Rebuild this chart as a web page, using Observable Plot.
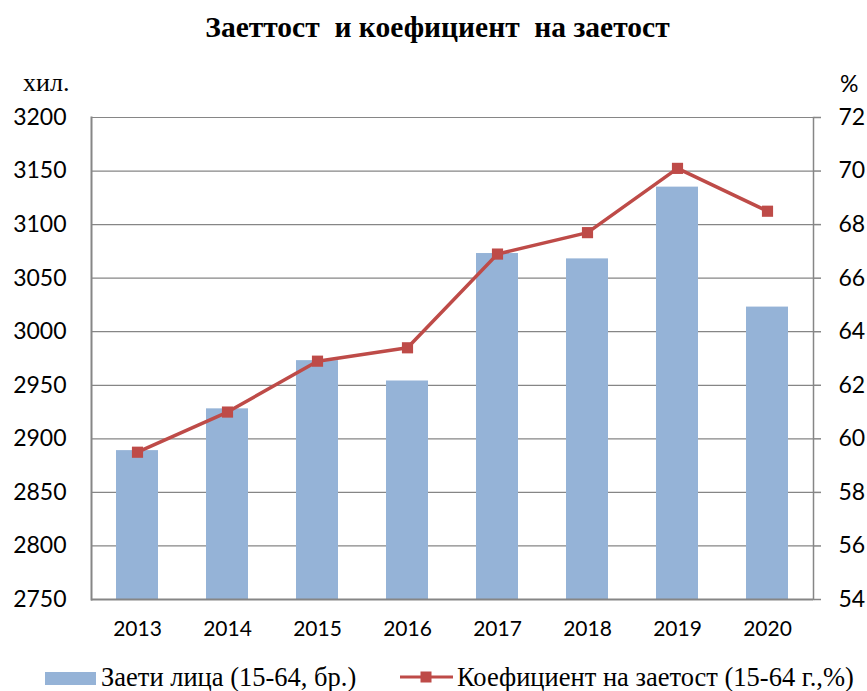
<!DOCTYPE html>
<html>
<head>
<meta charset="utf-8">
<script src="https://cdn.jsdelivr.net/npm/d3@7"></script>
<script src="https://cdn.jsdelivr.net/npm/@observablehq/plot@0.6"></script>
<style>
  html, body { margin: 0; padding: 0; background: #fff; }
  #wrap { position: relative; width: 867px; height: 691px; overflow: hidden; }
  #wrap > svg { position: absolute; left: 0; top: 0; }
  .txt { position: absolute; white-space: pre; color: #000; line-height: 1; }
  .title { font-family: "Liberation Serif", "Times New Roman", serif; font-weight: bold; font-size: 29.5px; left: 4px; width: 867px; text-align: center; top: 13px; }
  .unit { font-family: "Liberation Serif", "Times New Roman", serif; font-size: 26px; }
  .unitpct { font-family: Lato, sans-serif; font-size: 23px; }
  .legend { font-family: "Liberation Serif", "Times New Roman", serif; font-size: 26.5px; top: 664px; }
</style>
</head>
<body>
<div id="wrap">
  <div class="txt title">Заеттост  и коефициент  на заетост</div>
  <div class="txt unit" style="left:23px; top:70px;">хил.</div>
  <div class="txt unitpct" style="left:840px; top:72px;">%</div>
  <div class="txt legend" style="left:45px;"><span style="display:inline-block;width:51px;height:13px;background:#95B3D7;vertical-align:1px;margin-right:5px;"></span>Заети лица (15-64, бр.)</div>
  <div class="txt legend" style="left:400px;"><svg width="53" height="14" style="vertical-align:2px;margin-right:4px;"><line x1="0" y1="7" x2="53" y2="7" stroke="#BE4B48" stroke-width="3"/><rect x="20.5" y="1.5" width="11" height="11" fill="#BE4B48"/></svg>Коефициент на заетост (15-64 г.,%)</div>
</div>
<script>
const years = ["2013","2014","2015","2016","2017","2018","2019","2020"];
const employed = [2889, 2928, 2973, 2954, 3073, 3068, 3135, 3023];
const rate = [59.5, 61.0, 62.9, 63.4, 66.9, 67.7, 70.1, 68.5];
const leftTicks = [2750, 2800, 2850, 2900, 2950, 3000, 3050, 3100, 3150, 3200];
const rightTicks = [54, 56, 58, 60, 62, 64, 66, 68, 70, 72];

const L0 = 2750, L1 = 3200, R0 = 54, R1 = 72;
const toLeft = v => L0 + (v - R0) * (L1 - L0) / (R1 - R0);
const fromLeft = d => R0 + (d - L0) * (R1 - R0) / (L1 - L0);

const barData = years.map((y, i) => ({year: y, value: employed[i]}));
const lineData = years.map((y, i) => ({year: y, value: toLeft(rate[i])}));

const chart = Plot.plot({
  width: 867,
  height: 691,
  marginLeft: 91,
  marginRight: 54,
  marginTop: 117,
  marginBottom: 92,
  style: {background: "transparent", overflow: "visible"},
  x: {domain: years, paddingInner: 0.533, paddingOuter: 0.2665, label: null},
  y: {domain: [L0, L1], label: null},
  marks: [
    Plot.gridY(leftTicks, {stroke: "#868686", strokeOpacity: 1, strokeWidth: 1.2}),
    Plot.barY(barData, {x: "year", y1: L0, y2: "value", fill: "#95B3D7"}),
    Plot.axisY(leftTicks, {anchor: "left", tickSize: 0, tickPadding: 25, fontSize: 23, fontFamily: "Lato", fill: "#000", tickFormat: d => String(d), label: null}),
    Plot.axisY(rightTicks.map(toLeft), {anchor: "right", tickSize: 7, tickPadding: 18, stroke: "#868686", strokeWidth: 1.5, fontSize: 23, fontFamily: "Lato", fill: "#000", tickFormat: d => String(Math.round(fromLeft(d))), label: null}),
    Plot.axisX({anchor: "bottom", tickSize: 0, tickPadding: 22, fontSize: 21, fontFamily: "Lato", fill: "#000", label: null}),
    Plot.ruleY([L0], {stroke: "#868686", strokeWidth: 2}),
    Plot.frame({anchor: "left", stroke: "#868686", strokeWidth: 2}),
    Plot.frame({anchor: "right", stroke: "#868686", strokeWidth: 1.5}),
    Plot.line(lineData, {x: "year", y: "value", stroke: "#BE4B48", strokeWidth: 3.5}),
    Plot.dot(lineData, {x: "year", y: "value", symbol: "square", r: 6.3, fill: "#BE4B48", stroke: "none"})
  ]
});
document.getElementById("wrap").prepend(chart);
</script>
</body>
</html>
